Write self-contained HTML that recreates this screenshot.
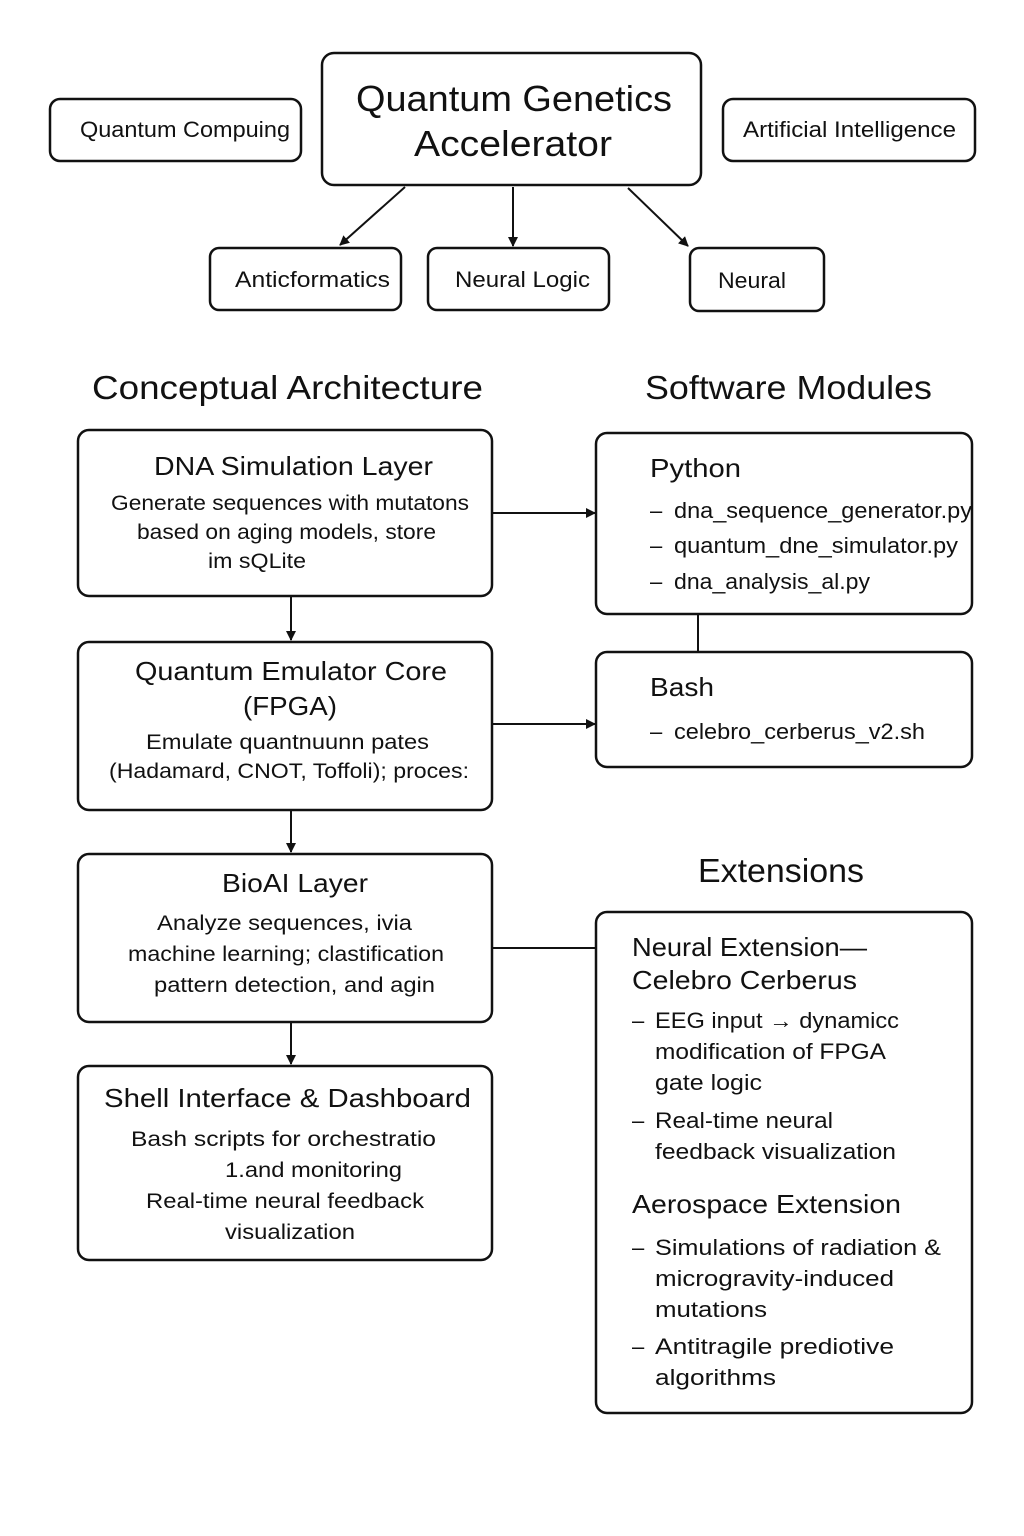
<!DOCTYPE html>
<html><head><meta charset="utf-8"><style>
html,body{margin:0;padding:0;background:#fff;}
svg{display:block;}
text{font-family:"Liberation Sans",sans-serif;fill:#111;}
</style></head><body>
<svg width="1024" height="1536" viewBox="0 0 1024 1536" xmlns="http://www.w3.org/2000/svg">
<defs><marker id="a" markerWidth="10" markerHeight="10" refX="9" refY="5" orient="auto" markerUnits="userSpaceOnUse"><path d="M0,0 L10,5 L0,10 z" fill="#111"/></marker></defs>
<g fill="none" stroke="#111" stroke-width="2.5">
<rect x="50" y="99" width="251" height="62" rx="10"/>
<rect x="322" y="53" width="379" height="132" rx="12"/>
<rect x="723" y="99" width="252" height="62" rx="10"/>
<rect x="210" y="248" width="191" height="62" rx="9"/>
<rect x="428" y="248" width="181" height="62" rx="9"/>
<rect x="690" y="248" width="134" height="63" rx="9"/>
<rect x="78" y="430" width="414" height="166" rx="11"/>
<rect x="78" y="642" width="414" height="168" rx="11"/>
<rect x="78" y="854" width="414" height="168" rx="11"/>
<rect x="78" y="1066" width="414" height="194" rx="11"/>
<rect x="596" y="433" width="376" height="181" rx="11"/>
<rect x="596" y="652" width="376" height="115" rx="11"/>
<rect x="596" y="912" width="376" height="501" rx="11"/>
</g>
<g stroke="#111" stroke-width="2" fill="none">
<line x1="405" y1="187" x2="340" y2="245" marker-end="url(#a)"/>
<line x1="513" y1="187" x2="513" y2="246" marker-end="url(#a)"/>
<line x1="628" y1="188" x2="688" y2="246" marker-end="url(#a)"/>
<line x1="291" y1="597" x2="291" y2="640" marker-end="url(#a)"/>
<line x1="291" y1="811" x2="291" y2="852" marker-end="url(#a)"/>
<line x1="291" y1="1023" x2="291" y2="1064" marker-end="url(#a)"/>
<line x1="493" y1="513" x2="595" y2="513" marker-end="url(#a)"/>
<line x1="493" y1="724" x2="595" y2="724" marker-end="url(#a)"/>
<line x1="493" y1="948" x2="596" y2="948"/>
<line x1="698" y1="615" x2="698" y2="652"/>
</g>
<g font-size="22" lengthAdjust="spacingAndGlyphs">
<text x="80" y="137" textLength="210" lengthAdjust="spacingAndGlyphs">Quantum Compuing</text>
<text x="743" y="137" textLength="213" lengthAdjust="spacingAndGlyphs">Artificial Intelligence</text>
<text x="235" y="287" textLength="155" lengthAdjust="spacingAndGlyphs">Anticformatics</text>
<text x="455" y="287" textLength="135" lengthAdjust="spacingAndGlyphs">Neural Logic</text>
<text x="718" y="288" textLength="68" lengthAdjust="spacingAndGlyphs">Neural</text>
</g>
<g font-size="36">
<text x="356" y="111" textLength="316" lengthAdjust="spacingAndGlyphs">Quantum Genetics</text>
<text x="414" y="156" textLength="198" lengthAdjust="spacingAndGlyphs">Accelerator</text>
</g>
<g font-size="33">
<text x="92" y="399" textLength="391" lengthAdjust="spacingAndGlyphs">Conceptual Architecture</text>
<text x="645" y="399" textLength="287" lengthAdjust="spacingAndGlyphs">Software Modules</text>
<text x="698" y="882" textLength="166" lengthAdjust="spacingAndGlyphs">Extensions</text>
</g>
<g font-size="26">
<text x="154" y="475" textLength="279" lengthAdjust="spacingAndGlyphs">DNA Simulation Layer</text>
<text x="135" y="680" textLength="312" lengthAdjust="spacingAndGlyphs">Quantum Emulator Core</text>
<text x="243" y="715" textLength="94" lengthAdjust="spacingAndGlyphs">(FPGA)</text>
<text x="222" y="892" textLength="146" lengthAdjust="spacingAndGlyphs">BioAI Layer</text>
<text x="104" y="1107" textLength="367" lengthAdjust="spacingAndGlyphs">Shell Interface &amp; Dashboard</text>
</g>
<g font-size="21">
<text x="111" y="510" textLength="358" lengthAdjust="spacingAndGlyphs">Generate sequences with mutatons</text>
<text x="137" y="539" textLength="299" lengthAdjust="spacingAndGlyphs">based on aging models, store</text>
<text x="208" y="568" textLength="98" lengthAdjust="spacingAndGlyphs">im sQLite</text>
<text x="146" y="749" textLength="283" lengthAdjust="spacingAndGlyphs">Emulate quantnuunn pates</text>
<text x="109" y="778" textLength="360" lengthAdjust="spacingAndGlyphs">(Hadamard, CNOT, Toffoli); proces:</text>
<text x="157" y="930" textLength="255" lengthAdjust="spacingAndGlyphs">Analyze sequences, ivia</text>
<text x="128" y="961" textLength="316" lengthAdjust="spacingAndGlyphs">machine learning; clastification</text>
<text x="154" y="992" textLength="281" lengthAdjust="spacingAndGlyphs">pattern detection, and agin</text>
<text x="131" y="1146" textLength="305" lengthAdjust="spacingAndGlyphs">Bash scripts for orchestratio</text>
<text x="225" y="1177" textLength="177" lengthAdjust="spacingAndGlyphs">1.and monitoring</text>
<text x="146" y="1208" textLength="278" lengthAdjust="spacingAndGlyphs">Real-time neural feedback</text>
<text x="225" y="1239" textLength="130" lengthAdjust="spacingAndGlyphs">visualization</text>
</g>
<g font-size="26">
<text x="650" y="477" textLength="91" lengthAdjust="spacingAndGlyphs">Python</text>
<text x="650" y="696" textLength="64" lengthAdjust="spacingAndGlyphs">Bash</text>
<text x="632" y="956" textLength="235" lengthAdjust="spacingAndGlyphs">Neural Extension—</text>
<text x="632" y="989" textLength="225" lengthAdjust="spacingAndGlyphs">Celebro Cerberus</text>
<text x="632" y="1213" textLength="269" lengthAdjust="spacingAndGlyphs">Aerospace Extension</text>
</g>
<g font-size="22">
<text x="650" y="518">–</text><text x="674" y="518" textLength="298" lengthAdjust="spacingAndGlyphs">dna_sequence_generator.py</text>
<text x="650" y="553">–</text><text x="674" y="553" textLength="284" lengthAdjust="spacingAndGlyphs">quantum_dne_simulator.py</text>
<text x="650" y="589">–</text><text x="674" y="589" textLength="196" lengthAdjust="spacingAndGlyphs">dna_analysis_al.py</text>
<text x="650" y="739">–</text><text x="674" y="739" textLength="251" lengthAdjust="spacingAndGlyphs">celebro_cerberus_v2.sh</text>
<text x="632" y="1028">–</text><text x="655" y="1028" textLength="244" lengthAdjust="spacingAndGlyphs">EEG input → dynamicc</text>
<text x="655" y="1059" textLength="231" lengthAdjust="spacingAndGlyphs">modification of FPGA</text>
<text x="655" y="1090" textLength="107" lengthAdjust="spacingAndGlyphs">gate logic</text>
<text x="632" y="1128">–</text><text x="655" y="1128" textLength="178" lengthAdjust="spacingAndGlyphs">Real-time neural</text>
<text x="655" y="1159" textLength="241" lengthAdjust="spacingAndGlyphs">feedback visualization</text>
<text x="632" y="1255">–</text><text x="655" y="1255" textLength="286" lengthAdjust="spacingAndGlyphs">Simulations of radiation &amp;</text>
<text x="655" y="1286" textLength="239" lengthAdjust="spacingAndGlyphs">microgravity-induced</text>
<text x="655" y="1317" textLength="112" lengthAdjust="spacingAndGlyphs">mutations</text>
<text x="632" y="1354">–</text><text x="655" y="1354" textLength="239" lengthAdjust="spacingAndGlyphs">Antitragile prediotive</text>
<text x="655" y="1385" textLength="121" lengthAdjust="spacingAndGlyphs">algorithms</text>
</g>
</svg>
</body></html>
